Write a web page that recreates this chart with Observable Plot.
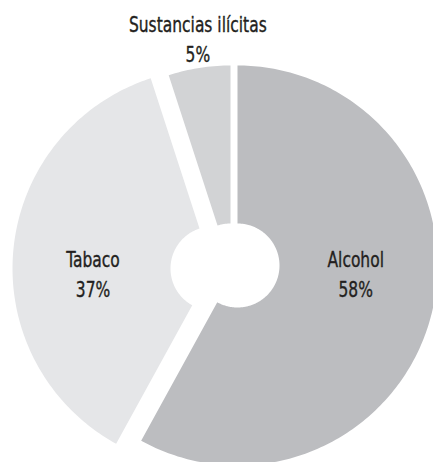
<!DOCTYPE html>
<html>
<head>
<meta charset="utf-8">
<script src="https://cdn.jsdelivr.net/npm/d3@7"></script>
<script src="https://cdn.jsdelivr.net/npm/@observablehq/plot@0.6"></script>
<style>
  html, body { margin: 0; padding: 0; background: #ffffff; }
  #chart svg { display: block; }
</style>
</head>
<body>
<div id="chart"></div>
<script>
// ---- data ----
const categories = ["Alcohol", "Tabaco", "Sustancias ilícitas"];
const values = [58, 37, 5];
const colors = ["#bcbdc0", "#e5e6e8", "#d2d3d5"];

// ---- layout (pixels) ----
const W = 433, H = 462;
const cxPx = 228, cyPx = 266, Rpx = 200;   // pie centre and outer radius
const innerRatio = 0.21;                    // hole radius / outer radius
// per-slice explode shift (px, screen: +x right, +y down)
const explodePx = {"Alcohol": [9, -1], "Tabaco": [-16, 2], "Sustancias ilícitas": [2, -1]};
// label radius (fraction of outer radius) and pixel nudges
const labelRadius = {"Alcohol": 0.6, "Tabaco": 0.6, "Sustancias ilícitas": 1.14};
const labelNudgePx = {"Alcohol": [2, -23], "Tabaco": [0, 15], "Sustancias ilícitas": [3, -3]};
const textScaleX = 0.84;

const arcs = d3.pie().sort(null).value(d => d)(values);

const slicePts = [];
const labels = [];
arcs.forEach((a, i) => {
  const cat = categories[i];
  const ox = explodePx[cat][0] / Rpx, oy = -explodePx[cat][1] / Rpx;
  const n = Math.max(8, Math.ceil((a.endAngle - a.startAngle) * 60));
  for (let k = 0; k <= n; k++) {
    const t = a.startAngle + (a.endAngle - a.startAngle) * k / n;
    slicePts.push({cat, x: ox + Math.sin(t), y: oy + Math.cos(t)});
  }
  for (let k = n; k >= 0; k--) {
    const t = a.startAngle + (a.endAngle - a.startAngle) * k / n;
    slicePts.push({cat, x: ox + innerRatio * Math.sin(t), y: oy + innerRatio * Math.cos(t)});
  }
  const mid = (a.startAngle + a.endAngle) / 2;
  const L = labelRadius[cat];
  labels.push({
    cat,
    text: `${cat}\n${a.data}%`,
    x: ox + L * Math.sin(mid) + labelNudgePx[cat][0] / Rpx,
    y: oy + L * Math.cos(mid) - labelNudgePx[cat][1] / Rpx
  });
});

const font = "'DejaVu Sans Condensed', 'Liberation Sans Narrow', 'DejaVu Sans', sans-serif";

const chart = Plot.plot({
  width: W,
  height: H,
  margin: 0,
  style: {background: "#ffffff", fontFamily: font},
  x: {domain: [-cxPx / Rpx, (W - cxPx) / Rpx], axis: null},
  y: {domain: [-(H - cyPx) / Rpx, cyPx / Rpx], axis: null},
  color: {domain: categories, range: colors},
  marks: [
    Plot.line(slicePts, {x: "x", y: "y", z: "cat", fill: "cat", stroke: null, curve: "linear"}),
    Plot.text(labels, {
      x: "x", y: "y", text: "text",
      fontSize: 20.5, lineHeight: 1.47,
      fill: "#231f20", stroke: "#231f20", strokeWidth: 0.35,
      fontFamily: font, textAnchor: "middle"
    })
  ]
});

// narrow the lettering to match the condensed face of the original
chart.querySelectorAll("text").forEach(t => {
  const tr = t.getAttribute("transform");
  if (tr) {
    t.setAttribute("transform", `${tr} scale(${textScaleX},1)`);
  } else {
    const x = +t.getAttribute("x") || 0, y = +t.getAttribute("y") || 0;
    t.removeAttribute("x"); t.removeAttribute("y");
    t.setAttribute("transform", `translate(${x},${y}) scale(${textScaleX},1)`);
  }
});

document.getElementById("chart").appendChild(chart);
</script>
</body>
</html>
